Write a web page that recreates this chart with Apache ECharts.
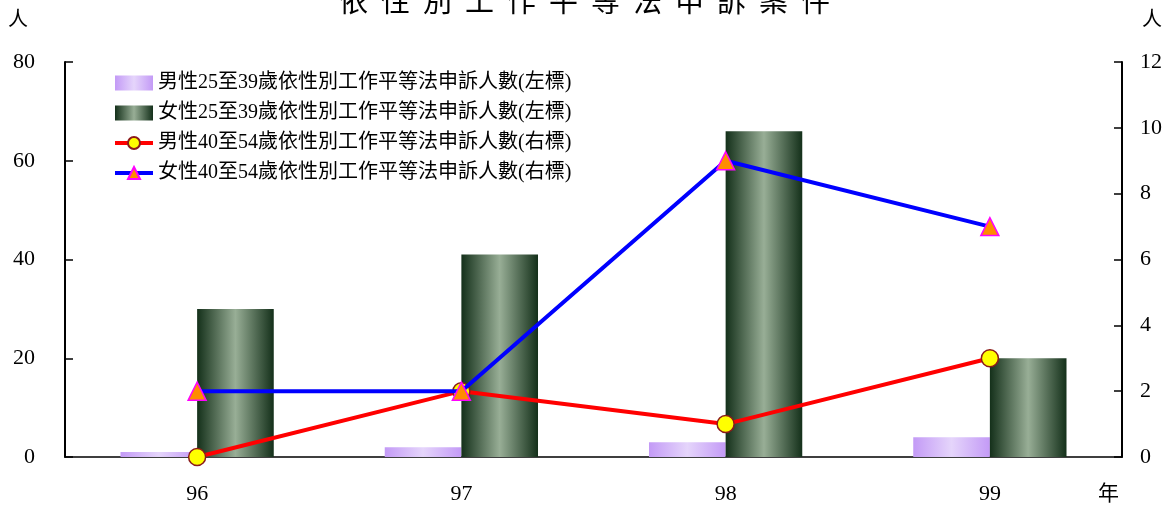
<!DOCTYPE html>
<html>
<head>
<meta charset="utf-8">
<script src="https://cdn.jsdelivr.net/npm/echarts@6/dist/echarts.min.js"></script>
<style>
html,body{margin:0;padding:0;background:#fff;}
#chart{width:1169px;height:505px;}
</style>
</head>
<body>
<div id="chart"></div>
<script>
const categories = ['96', '97', '98', '99'];
const male2539 = [1, 2, 3, 4];
const female2539 = [30, 41, 66, 20];
const male4054 = [0, 2, 1, 3];
const female4054 = [2, 2, 9, 7];
const leftTicks = [0, 20, 40, 60, 80];
const rightTicks = [0, 2, 4, 6, 8, 10, 12];
const seriesNames = [
  '男性25至39歲依性別工作平等法申訴人數(左標)',
  '女性25至39歲依性別工作平等法申訴人數(左標)',
  '男性40至54歲依性別工作平等法申訴人數(右標)',
  '女性40至54歲依性別工作平等法申訴人數(右標)'
];
const titleText = '依性別工作平等法申訴案件';

const FONT = '"Liberation Serif", "Noto Sans CJK TC", serif';
const chart = echarts.init(document.getElementById('chart'), null, {renderer: 'canvas'});

const purpleGrad = new echarts.graphic.LinearGradient(0, 0, 1, 0, [
  {offset: 0, color: '#c39af6'},
  {offset: 0.5, color: '#e5d5fb'},
  {offset: 1, color: '#c39af6'}
]);
const greenGrad = new echarts.graphic.LinearGradient(0, 0, 1, 0, [
  {offset: 0, color: '#14301a'},
  {offset: 0.5, color: '#98ae96'},
  {offset: 1, color: '#14301a'}
]);

chart.setOption({
  backgroundColor: '#fff',
  animation: false,
  textStyle: {fontFamily: FONT, color: '#000'},
  title: {
    text: titleText.split('').join('  '),
    left: 'center',
    top: -19,
    textStyle: {fontFamily: '"Noto Sans CJK TC", sans-serif', fontSize: 29, fontWeight: 'normal', color: '#000'}
  },
  graphic: [
    {type: 'text', left: 8, top: 8, style: {text: '人', font: '20px "Noto Sans CJK TC"', fill: '#000'}},
    {type: 'text', left: 1142, top: 8, style: {text: '人', font: '20px "Noto Sans CJK TC"', fill: '#000'}},
    {type: 'text', left: 1098, top: 482, style: {text: '年', font: '21px "Noto Sans CJK TC"', fill: '#000'}}
  ],
  legend: {
    orient: 'vertical',
    left: 108,
    top: 68,
    itemWidth: 38,
    itemHeight: 15,
    itemGap: 10,
    lineStyle: {width: 4},
    textStyle: {fontFamily: FONT, fontSize: 20, color: '#000'},
    data: [
      {name: seriesNames[0], icon: 'rect'},
      {name: seriesNames[1], icon: 'rect'},
      {name: seriesNames[2]},
      {name: seriesNames[3]}
    ]
  },
  grid: {left: 65, right: 47, top: 62, bottom: 48, containLabel: false, outerBoundsMode: 'none'},
  xAxis: {
    type: 'category',
    data: categories,
    axisLine: {lineStyle: {color: '#000', width: 1.5}},
    axisTick: {inside: true, length: 7, lineStyle: {color: '#000', width: 1.2}},
    axisLabel: {fontFamily: FONT, fontSize: 22, color: '#000', margin: 26},
    splitLine: {show: false}
  },
  yAxis: [
    {
      type: 'value', min: 0, max: 80, interval: 20,
      axisLine: {show: true, lineStyle: {color: '#000', width: 2}},
      axisTick: {show: true, inside: true, length: 8, lineStyle: {color: '#000', width: 1.5}},
      axisLabel: {fontFamily: FONT, fontSize: 22, color: '#000', margin: 30,
        formatter: v => leftTicks.includes(v) ? String(v) : ''},
      splitLine: {show: false}
    },
    {
      type: 'value', min: 0, max: 12, interval: 2,
      axisLine: {show: true, lineStyle: {color: '#000', width: 2}},
      axisTick: {show: true, inside: true, length: 8, lineStyle: {color: '#000', width: 1.5}},
      axisLabel: {fontFamily: FONT, fontSize: 22, color: '#000', margin: 18,
        formatter: v => rightTicks.includes(v) ? String(v) : ''},
      splitLine: {show: false}
    }
  ],
  series: [
    {
      name: seriesNames[0], type: 'bar', yAxisIndex: 0, data: male2539,
      barGap: '0%', barCategoryGap: '42%',
      itemStyle: {color: purpleGrad}
    },
    {
      name: seriesNames[1], type: 'bar', yAxisIndex: 0, data: female2539,
      barGap: '0%', barCategoryGap: '42%',
      itemStyle: {color: greenGrad}
    },
    {
      name: seriesNames[2], type: 'line', yAxisIndex: 1, data: male4054,
      symbol: 'circle', symbolSize: 17,
      lineStyle: {color: '#ff0000', width: 4},
      itemStyle: {color: '#ffff00', borderColor: '#8b1a1a', borderWidth: 1.5},
      z: 3
    },
    {
      name: seriesNames[3], type: 'line', yAxisIndex: 1, data: female4054,
      symbol: 'triangle', symbolSize: 18,
      lineStyle: {color: '#0000ff', width: 4},
      itemStyle: {color: '#ff8c00', borderColor: '#ff00ff', borderWidth: 1.5},
      z: 4
    }
  ]
});
</script>
</body>
</html>
